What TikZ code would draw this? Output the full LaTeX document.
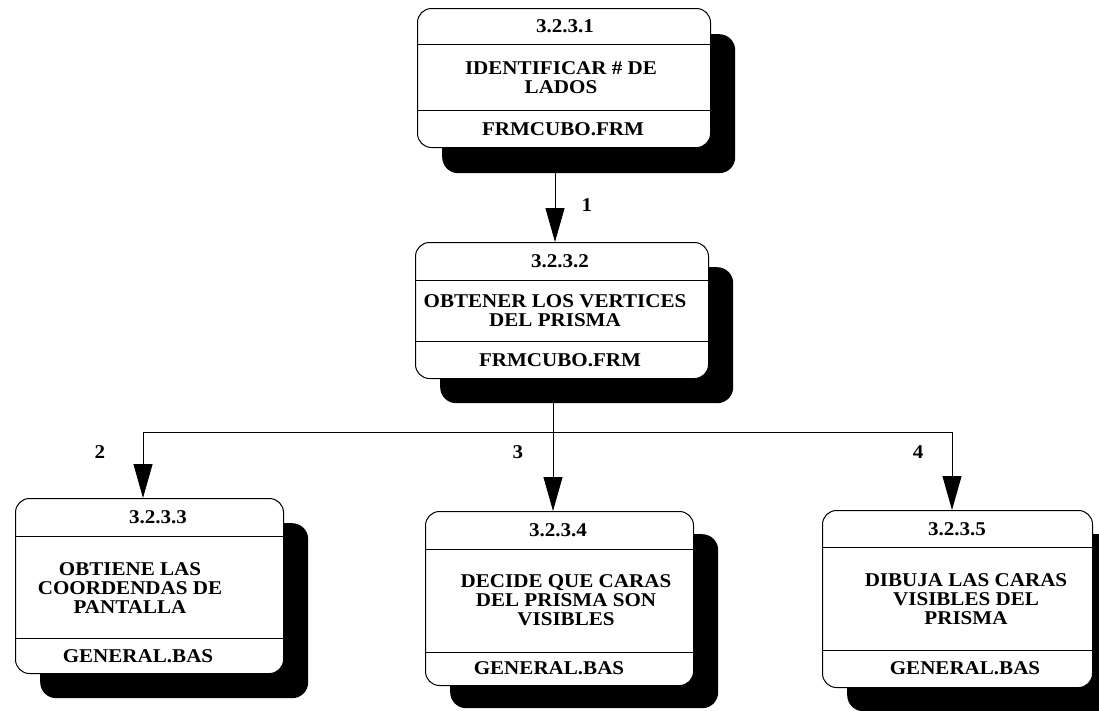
\documentclass[tikz,border=0pt]{standalone}
\usepackage{fontspec}
\setmainfont{Liberation Serif}[BoldFeatures={FakeStretch=1.08}]
\usetikzlibrary{arrows.meta}
\begin{document}
\begin{tikzpicture}[x=1pt,y=-1pt,
  procbox/.style={draw=black, line width=1pt, rounded corners=14pt, fill=white,
    inner sep=0pt, anchor=north west},
  procshade/.style={fill=black, rounded corners=16pt, inner sep=0pt, anchor=north west},
  divider/.style={line width=1pt},
  txt/.style={font=\bfseries\fontsize{19.5}{19}\selectfont, align=center, inner sep=0pt},
  flow/.style={line width=1pt, -{Triangle[length=34pt,width=19pt]}},
  flowline/.style={line width=1pt}]

\useasboundingbox (0,0) rectangle (1099,710);
\clip (0,0) rectangle (1099,710);

% ---------- 3.2.3.1 ----------
\node[procshade, minimum width=293pt, minimum height=139pt] (Ash) at (442,34) {};
\node[procbox, minimum width=293pt, minimum height=139pt] (A) at (417,8) {};
\draw[divider] (A.west |- 0,44) -- (A.east |- 0,44);
\draw[divider] (A.west |- 0,110) -- (A.east |- 0,110);
\node[txt] (Anum) at (565,26) {3.2.3.1};
\node[txt] (Abody) at (561,78) {IDENTIFICAR \# DE\\LADOS};
\node[txt] (Afile) at (563,129) {FRMCUBO.FRM};

% ---------- 3.2.3.2 ----------
\node[procshade, minimum width=293pt, minimum height=136pt] (Bsh) at (440,267) {};
\node[procbox, minimum width=293pt, minimum height=136pt] (B) at (415,242) {};
\draw[divider] (B.west |- 0,280) -- (B.east |- 0,280);
\draw[divider] (B.west |- 0,341) -- (B.east |- 0,341);
\node[txt] (Bnum) at (560,261) {3.2.3.2};
\node[txt] (Bbody) at (555,311) {OBTENER LOS VERTICES\\DEL PRISMA};
\node[txt] (Bfile) at (560,360) {FRMCUBO.FRM};

% ---------- 3.2.3.3 ----------
\node[procshade, minimum width=268pt, minimum height=175pt] (Csh) at (40,523) {};
\node[procbox, minimum width=268pt, minimum height=175pt] (C) at (15,498) {};
\draw[divider] (C.west |- 0,536) -- (C.east |- 0,536);
\draw[divider] (C.west |- 0,638) -- (C.east |- 0,638);
\node[txt] (Cnum) at (158,517) {3.2.3.3};
\node[txt] (Cbody) at (130,588) {OBTIENE LAS\\COORDENDAS DE\\PANTALLA};
\node[txt] (Cfile) at (138,656) {GENERAL.BAS};

% ---------- 3.2.3.4 ----------
\node[procshade, minimum width=268pt, minimum height=174pt] (Dsh) at (450,534) {};
\node[procbox, minimum width=268pt, minimum height=174pt] (D) at (425,511) {};
\draw[divider] (D.west |- 0,549) -- (D.east |- 0,549);
\draw[divider] (D.west |- 0,652) -- (D.east |- 0,652);
\node[txt] (Dnum) at (558,530) {3.2.3.4};
\node[txt] (Dbody) at (566,600) {DECIDE QUE CARAS\\DEL PRISMA SON\\VISIBLES};
\node[txt] (Dfile) at (549,668) {GENERAL.BAS};

% ---------- 3.2.3.5 ----------
\node[procshade, minimum width=270pt, minimum height=177pt] (Esh) at (847,534) {};
\node[procbox, minimum width=270pt, minimum height=177pt] (E) at (822,510) {};
\draw[divider] (E.west |- 0,547) -- (E.east |- 0,547);
\draw[divider] (E.west |- 0,650) -- (E.east |- 0,650);
\node[txt] (Enum) at (957,529) {3.2.3.5};
\node[txt] (Ebody) at (966,599) {DIBUJA LAS CARAS\\VISIBLES DEL\\PRISMA};
\node[txt] (Efile) at (965,668) {GENERAL.BAS};

% ---------- connectors ----------
\draw[flow] (Ash.south -| 555,0) -- (B.north -| 555,0);
\node[txt] (l1) at (587,205) {1};

\coordinate (split) at (553,432);
\draw[flowline] (Bsh.south -| split) -- (split);
\draw[flow] (split) -| (C.north -| 143,0);
\draw[flow] (split) -- (D.north -| split);
\draw[flow] (split) -| (E.north -| 952,0);

\node[txt] (l2) at (100,452) {2};
\node[txt] (l3) at (518,452) {3};
\node[txt] (l4) at (918,452) {4};
\end{tikzpicture}
\end{document}
